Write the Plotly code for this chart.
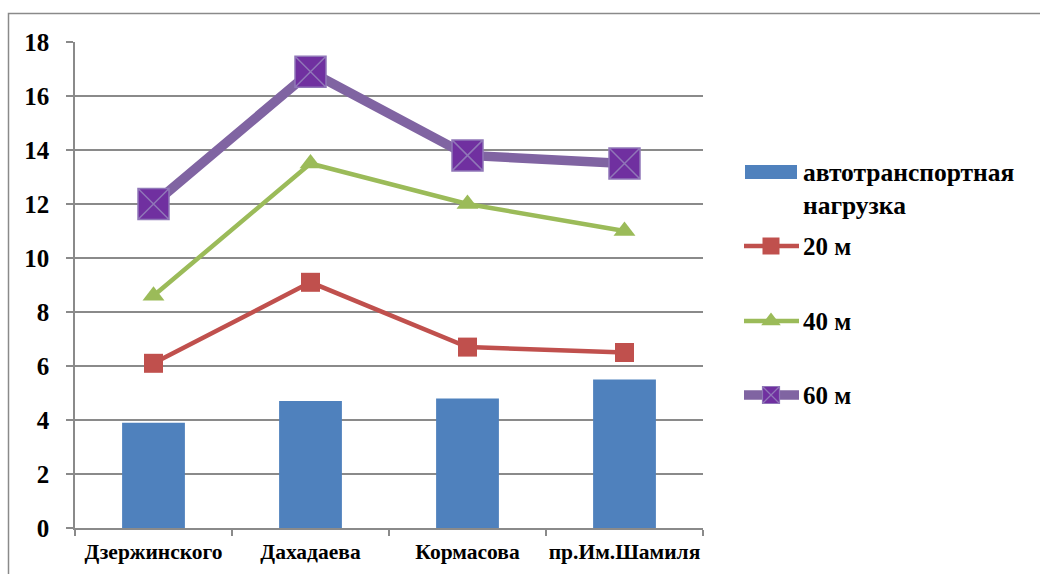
import plotly.graph_objects as go

# Streets and measured values
streets = ["Дзержинского", "Дахадаева", "Кормасова", "пр.Им.Шамиля"]
traffic_load = [3.9, 4.7, 4.8, 5.5]
dist_20m = [6.1, 9.1, 6.7, 6.5]
dist_40m = [8.6, 13.5, 12.0, 11.0]
dist_60m = [12.0, 16.9, 13.8, 13.5]
y_ticks = [0, 2, 4, 6, 8, 10, 12, 14, 16, 18]

W, H = 1040, 574
BLUE = "#4F81BD"
RED = "#C0504D"
GREEN = "#9BBB59"
PURPLE_LINE = "#8064A2"
PURPLE_FILL = "#7030A0"
GRID = "#8a8a8a"
FONT = "Liberation Serif, Times New Roman, serif"

# plot area in pixels
PL, PR, PT, PB = 75, 703, 42, 528

fig = go.Figure()

fig.add_trace(go.Bar(
    x=streets, y=traffic_load, width=0.4, marker=dict(color=BLUE, line=dict(width=0)),
    name="автотранспортная нагрузка", showlegend=False,
))
fig.add_trace(go.Scatter(
    x=streets, y=dist_20m, mode="lines+markers", name="20 м", showlegend=False,
    line=dict(color=RED, width=4.5),
    marker=dict(symbol="square", size=19, color=RED, line=dict(width=0)),
))
fig.add_trace(go.Scatter(
    x=streets, y=dist_40m, mode="lines+markers", name="40 м", showlegend=False,
    line=dict(color=GREEN, width=4.5),
    marker=dict(symbol="triangle-up", size=19, color=GREEN, line=dict(width=0)),
))
fig.add_trace(go.Scatter(
    x=streets, y=dist_60m, mode="lines+markers", name="60 м", showlegend=False,
    line=dict(color=PURPLE_LINE, width=9.5),
    marker=dict(symbol="square-x", size=31, color=PURPLE_FILL,
                line=dict(color="#9077b8", width=1.5)),
))

# legend samples drawn on a full-figure pixel axis
LX0, LX1, LXM = 744, 799, 771
leg_rows = [
    ("20 м", 246, RED, 4.5, "square", 17, RED, "rgba(0,0,0,0)", 0),
    ("40 м", 321, GREEN, 4.5, "triangle-up", 17, GREEN, "rgba(0,0,0,0)", 0),
    ("60 м", 395, PURPLE_LINE, 9.5, "square-x", 17, PURPLE_FILL, "#9077b8", 1.2),
]
for label, yy, lc, lw, sym, ms, mc, mlc, mlw in leg_rows:
    fig.add_trace(go.Scatter(
        x=[LX0, LXM, LX1], y=[yy, yy, yy], xaxis="x2", yaxis="y2",
        mode="lines", line=dict(color=lc, width=lw), showlegend=False, hoverinfo="skip",
    ))
    fig.add_trace(go.Scatter(
        x=[LXM], y=[yy], xaxis="x2", yaxis="y2", mode="markers",
        marker=dict(symbol=sym, size=ms, color=mc, line=dict(color=mlc, width=mlw)),
        showlegend=False, hoverinfo="skip",
    ))
    fig.add_annotation(x=801 / W, y=1 - yy / H, xref="paper", yref="paper",
                       xanchor="left", yanchor="middle", showarrow=False,
                       text=label, font=dict(family=FONT, size=25, color="black", weight="bold"))

fig.add_annotation(x=801 / W, y=1 - 189 / H, xref="paper", yref="paper",
                   xanchor="left", yanchor="middle", showarrow=False, align="left",
                   text="автотранспортная<br>нагрузка",
                   font=dict(family=FONT, size=25.5, color="black", weight="bold"))

shapes = [
    # bar legend swatch
    dict(type="rect", xref="paper", yref="paper", x0=745 / W, x1=797 / W,
         y0=1 - 179 / H, y1=1 - 165 / H, fillcolor=BLUE, line=dict(width=0)),
    # chart frame
    dict(type="rect", xref="paper", yref="paper", x0=8.5 / W, x1=1.01,
         y0=-0.01, y1=1 - 13.5 / H, line=dict(color="#8a8a8a", width=1.5),
         fillcolor="rgba(0,0,0,0)", layer="below"),
]

fig.update_layout(
    template="none",
    width=W, height=H,
    margin=dict(l=0, r=0, t=0, b=0, autoexpand=False),
    paper_bgcolor="white", plot_bgcolor="rgba(0,0,0,0)",
    showlegend=False,
    shapes=shapes,
    xaxis=dict(
        domain=[PL / W, PR / W], type="category", tickson="boundaries",
        ticks="outside", ticklen=6, tickcolor=GRID, tickwidth=1.5,
        showline=True, linecolor=GRID, linewidth=1.5, showgrid=False, zeroline=False,
        tickfont=dict(family=FONT, size=21.5, color="black", weight="bold"),
        tickangle=0, ticklabelstandoff=3, anchor="y", automargin=False,
    ),
    yaxis=dict(
        domain=[1 - PB / H, 1 - PT / H], range=[0, 18], tickvals=y_ticks,
        ticks="outside", ticklen=7, tickcolor=GRID, tickwidth=1.5,
        showline=True, linecolor=GRID, linewidth=1.5,
        showgrid=True, gridcolor=GRID, gridwidth=1.5, zeroline=False,
        tickfont=dict(family=FONT, size=25, color="black", weight="bold"),
        ticklabelstandoff=12, anchor="x", automargin=False,
    ),
    xaxis2=dict(domain=[0, 1], range=[0, W], visible=False, fixedrange=True,
                anchor="y2", automargin=False),
    yaxis2=dict(domain=[0, 1], range=[H, 0], visible=False, fixedrange=True,
                anchor="x2", automargin=False),
)

fig.write_html("out.html")
